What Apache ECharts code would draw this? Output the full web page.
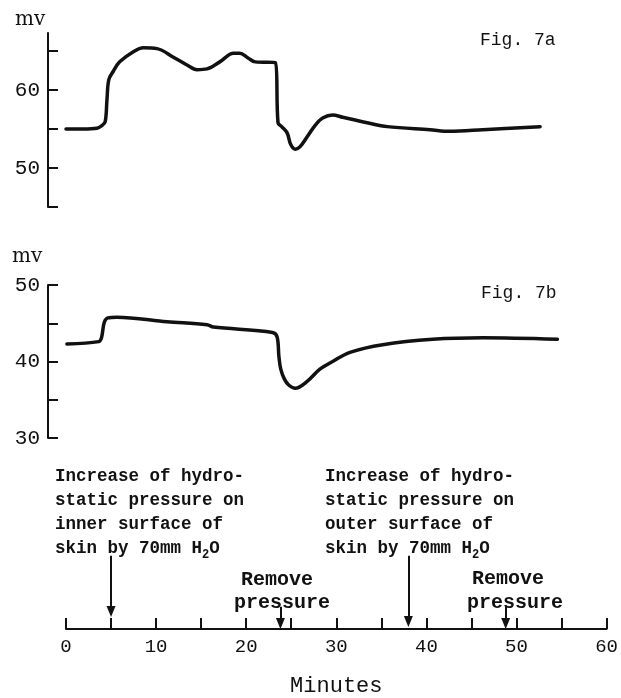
<!DOCTYPE html>
<html>
<head>
<meta charset="utf-8">
<script src="https://cdn.jsdelivr.net/npm/echarts@6/dist/echarts.min.js"></script>
<style>
  html, body { margin: 0; padding: 0; background: #fff; }
  #chart { width: 621px; height: 698px; }
</style>
</head>
<body>
<div id="chart"></div>
<script>
// Skin potential (mV) against time (minutes)
// Fig. 7a: pressure applied to the inner surface, then removed
var fig7aMinutes = [0, 1.9, 3.4, 3.9, 4.3, 4.5, 4.7, 5.2, 5.9, 7.4, 8.5, 10.0, 11.8, 13.3, 14.4, 15.5, 16.9, 18.4, 19.1, 20.0, 20.8, 23.0, 23.3, 23.7, 24.3, 24.7, 25.2, 25.7, 26.5, 27.4, 28.2, 29.3, 30.4, 33.1, 35.3, 40.0, 42.2, 45.8, 52.1];
var fig7aMv      = [55.0, 55.0, 55.1, 55.4, 55.9, 58.7, 61.3, 62.4, 63.6, 64.9, 65.4, 65.3, 64.2, 63.2, 62.6, 62.7, 63.6, 64.7, 64.7, 64.1, 63.6, 63.5, 55.8, 55.3, 54.5, 53.0, 52.4, 52.7, 54.0, 55.5, 56.4, 56.8, 56.5, 55.8, 55.3, 54.9, 54.7, 54.9, 55.3];

// Fig. 7b: pressure applied to the outer surface, then removed
var fig7bMinutes = [0.1, 3.6, 3.9, 4.2, 4.6, 5.6, 11.1, 15.5, 16.2, 22.7, 23.2, 23.4, 23.6, 24.0, 24.5, 25.2, 26.5, 27.9, 29.3, 31.2, 34.8, 40.3, 45.8, 54.0];
var fig7bMv      = [42.3, 42.6, 43.1, 45.1, 45.7, 45.8, 45.2, 44.8, 44.5, 43.8, 43.2, 40.6, 39.0, 37.7, 36.9, 36.5, 37.4, 39.0, 40.0, 41.2, 42.2, 42.9, 43.1, 42.9];

// Axis ticks
var fig7aTicks = [45, 50, 55, 60, 65];
var fig7aTickLabels = [50, 60];
var fig7bTicks = [30, 35, 40, 45, 50];
var fig7bTickLabels = [30, 40, 50];
var minuteLabels = [0, 10, 20, 30, 40, 50, 60];

// Event markers on the time axis: minute, arrow start and arrow tip (height above axis)
var eventMinutes = [5, 23.8, 38, 48.8];
var eventArrowTop = [79, 24, 79, 24];
var eventArrowTip = [19, 6, 8, 6];

function pairs(xs, ys) {
  return xs.map(function (x, i) { return [x, ys[i]]; });
}

var INK = '#111';
var FONT = 'Liberation Mono';

var chart = echarts.init(document.getElementById('chart'));

var yAxisCommon = {
  type: 'value',
  position: 'left',
  offset: 18,
  splitLine: { show: false },
  axisLine: { show: true, onZero: false, lineStyle: { color: INK, width: 2 } },
  axisTick: { show: true, inside: true, length: 10, lineStyle: { color: INK, width: 2 } },
  axisLabel: { show: true, margin: 8, color: INK, fontFamily: FONT, fontSize: 21 }
};

var hiddenX = { type: 'value', min: 0, max: 60, show: false };

var markArrows = eventMinutes.map(function (m, i) {
  return [
    { coord: [m, eventArrowTop[i]], symbol: 'none' },
    { coord: [m, eventArrowTip[i]], symbol: 'triangle', symbolSize: [9, 11], symbolRotate: 180 }
  ];
});

var textFont = 'bold 17.5px "' + FONT + '"';
var bigFont = 'bold 20px "' + FONT + '"';

var option = {
  animation: false,
  backgroundColor: '#fff',
  grid: [
    { left: 66, width: 546, top: 33, height: 174 },
    { left: 66, width: 546, top: 285, height: 153 },
    { left: 66, width: 546, top: 540, height: 96 }
  ],
  xAxis: [
    Object.assign({ gridIndex: 0 }, hiddenX),
    Object.assign({ gridIndex: 1 }, hiddenX),
    {
      gridIndex: 2, type: 'value', min: 0, max: 60, interval: 5,
      splitLine: { show: false },
      axisLine: { show: true, onZero: false, lineStyle: { color: INK, width: 2 } },
      axisTick: { show: true, inside: true, length: 11, lineStyle: { color: INK, width: 2 } },
      axisLabel: { customValues: minuteLabels, margin: 8, color: INK, fontFamily: FONT, fontSize: 19 },
      name: 'Minutes', nameLocation: 'middle', nameGap: 46,
      nameTextStyle: { color: INK, fontFamily: FONT, fontSize: 22 }
    }
  ],
  yAxis: [
    Object.assign({}, yAxisCommon, {
      gridIndex: 0, min: 45, max: 67.3,
      axisTick: Object.assign({}, yAxisCommon.axisTick, { customValues: fig7aTicks }),
      axisLabel: Object.assign({}, yAxisCommon.axisLabel, { customValues: fig7aTickLabels, padding: [8, 0, 0, 0] })
    }),
    Object.assign({}, yAxisCommon, {
      gridIndex: 1, min: 30, max: 50,
      axisTick: Object.assign({}, yAxisCommon.axisTick, { customValues: fig7bTicks }),
      axisLabel: Object.assign({}, yAxisCommon.axisLabel, { customValues: fig7bTickLabels })
    }),
    { gridIndex: 2, type: 'value', min: 0, max: 96, show: false }
  ],
  series: [
    {
      name: 'Fig. 7a', type: 'line', xAxisIndex: 0, yAxisIndex: 0,
      data: pairs(fig7aMinutes, fig7aMv),
      showSymbol: false, smooth: 0.35,
      lineStyle: { color: INK, width: 3.5, cap: 'round', join: 'round' }
    },
    {
      name: 'Fig. 7b', type: 'line', xAxisIndex: 1, yAxisIndex: 1,
      data: pairs(fig7bMinutes, fig7bMv),
      showSymbol: false, smooth: 0.35,
      lineStyle: { color: INK, width: 3.5, cap: 'round', join: 'round' }
    },
    {
      name: 'events', type: 'line', xAxisIndex: 2, yAxisIndex: 2,
      data: [], silent: true,
      markLine: {
        silent: true, animation: false,
        lineStyle: { color: INK, width: 2, type: 'solid' },
        label: { show: false },
        data: markArrows
      }
    }
  ],
  graphic: [
    { type: 'text', left: 15, top: 10, style: { text: 'mv', font: '20px "DejaVu Serif"', fill: INK } },
    { type: 'text', left: 12, top: 247, style: { text: 'mv', font: '20px "DejaVu Serif"', fill: INK } },
    { type: 'text', left: 480, top: 31, style: { text: 'Fig. 7a', font: '18px "' + FONT + '"', fill: INK } },
    { type: 'text', left: 481, top: 284, style: { text: 'Fig. 7b', font: '18px "' + FONT + '"', fill: INK } },
    {
      type: 'text', left: 55, top: 465,
      style: {
        text: 'Increase of hydro-\nstatic pressure on\ninner surface of\nskin by 70mm H{s|2}O',
        font: textFont, lineHeight: 24, fill: INK,
        rich: { s: { fontSize: 12, fontFamily: FONT, fontWeight: 'bold', verticalAlign: 'bottom', padding: [6, 0, 0, 0] } }
      }
    },
    {
      type: 'text', left: 325, top: 465,
      style: {
        text: 'Increase of hydro-\nstatic pressure on\nouter surface of\nskin by 70mm H{s|2}O',
        font: textFont, lineHeight: 24, fill: INK,
        rich: { s: { fontSize: 12, fontFamily: FONT, fontWeight: 'bold', verticalAlign: 'bottom', padding: [6, 0, 0, 0] } }
      }
    },
    { type: 'text', x: 277, y: 580, style: { text: 'Remove', font: bigFont, fill: INK, align: 'center', verticalAlign: 'middle' } },
    { type: 'text', x: 282, y: 603, style: { text: 'pressure', font: bigFont, fill: INK, align: 'center', verticalAlign: 'middle' } },
    { type: 'text', x: 508, y: 579, style: { text: 'Remove', font: bigFont, fill: INK, align: 'center', verticalAlign: 'middle' } },
    { type: 'text', x: 515, y: 603, style: { text: 'pressure', font: bigFont, fill: INK, align: 'center', verticalAlign: 'middle' } }
  ]
};

chart.setOption(option);
</script>
</body>
</html>
